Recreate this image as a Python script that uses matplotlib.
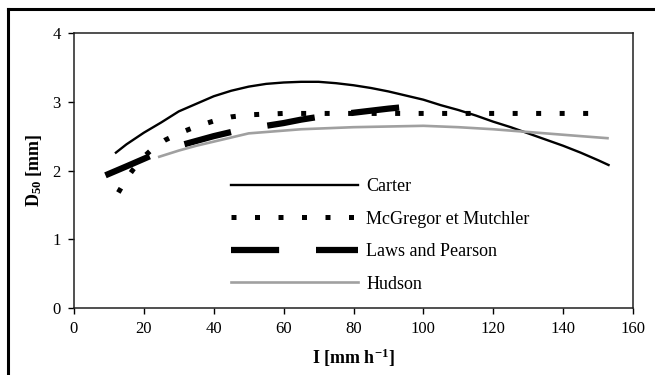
import matplotlib
matplotlib.use('Agg')
import matplotlib.pyplot as plt
from matplotlib.lines import Line2D
import numpy as np

plt.rcParams['font.family'] = ['Liberation Serif', 'DejaVu Serif']
plt.rcParams['mathtext.fontset'] = 'custom'
plt.rcParams['mathtext.rm'] = 'Liberation Serif'
plt.rcParams['mathtext.bf'] = 'Liberation Serif:bold'
plt.rcParams['mathtext.default'] = 'regular'
plt.rcParams['axes.unicode_minus'] = False

# values
carter_x = np.array([12, 15, 20, 25, 30, 35, 40, 45, 50, 55, 60, 65, 70, 75, 80, 85,
                     90, 95, 100, 105, 110, 115, 120, 125, 130, 135, 140, 145, 150, 153])
carter_y = np.array([2.26, 2.38, 2.55, 2.70, 2.86, 2.97, 3.08, 3.16, 3.22, 3.26, 3.28, 3.29,
                     3.29, 3.27, 3.24, 3.20, 3.15, 3.09, 3.03, 2.95, 2.88, 2.80, 2.71, 2.63,
                     2.54, 2.45, 2.36, 2.26, 2.15, 2.08])

mcgregor_x = np.array([12.7, 15, 17, 20, 23, 26, 30, 35, 40, 45, 50, 55, 60, 70, 80, 90,
                       100, 110, 120, 130, 140, 152])
mcgregor_y = np.array([1.68, 1.88, 2.02, 2.20, 2.34, 2.44, 2.54, 2.64, 2.72, 2.78, 2.81, 2.82,
                       2.83, 2.83, 2.83, 2.83, 2.83, 2.83, 2.83, 2.83, 2.83, 2.83])

laws_x = np.array([9, 15, 20, 25, 30, 35, 40, 45, 50, 55, 60, 65, 70, 75, 80, 85, 90, 94])
laws_y = np.array([1.93, 2.06, 2.17, 2.28, 2.36, 2.43, 2.50, 2.56, 2.61, 2.65, 2.69, 2.74,
                   2.78, 2.81, 2.84, 2.87, 2.90, 2.92])

hudson_x = np.array([24.4, 30, 35, 40, 45, 50, 55, 60, 65, 70, 80, 90, 100, 110, 120, 130,
                     140, 145, 152.7])
hudson_y = np.array([2.20, 2.29, 2.36, 2.42, 2.48, 2.54, 2.56, 2.58, 2.60, 2.61, 2.63, 2.64,
                     2.65, 2.63, 2.60, 2.56, 2.52, 2.50, 2.47])

fig = plt.figure(figsize=(6.55, 3.75), dpi=100)
ax = fig.add_axes([74 / 655, 1 - 308 / 375, 559 / 655, 275 / 375])

ax.plot(carter_x, carter_y, color='black', lw=1.7, label='Carter')
ax.plot(mcgregor_x, mcgregor_y, color='black', lw=3.6, dashes=(1, 3.7),
        dash_capstyle='butt', label='McGregor et Mutchler')
ax.plot(laws_x, laws_y, color='black', lw=4.5, dashes=(7.7, 5.9),
        dash_capstyle='butt', label='Laws and Pearson')
ax.plot(hudson_x, hudson_y, color='#a0a0a0', lw=1.9, label='Hudson')

ax.set_xlim(0, 160)
ax.set_ylim(0, 4)
ax.set_xticks(np.arange(0, 161, 20))
ax.set_yticks(np.arange(0, 5, 1))
ax.tick_params(direction='out', length=4.5, width=1, labelsize=12, pad=5)
for s in ax.spines.values():
    s.set_linewidth(1.1)
    s.set_color('#202020')

ax.set_xlabel('I [mm h$^{-1}$]', fontsize=13, fontweight='bold', labelpad=7)
ax.set_ylabel('D$_{50}$ [mm]', fontsize=13, fontweight='bold', labelpad=6)

ax.legend(loc='upper left', bbox_to_anchor=(0.281, 0.472), frameon=False, fontsize=13,
          handlelength=7.05, handletextpad=0.45, labelspacing=0.86, borderpad=0,
          borderaxespad=0)

# outer frame of the original figure (left and top edges visible)
fig.add_artist(Line2D([7.5 / 655, 7.5 / 655], [0, 1 - 8.5 / 375], color='black', lw=2.2,
                      transform=fig.transFigure))
fig.add_artist(Line2D([7.5 / 655, 1], [1 - 8.5 / 375, 1 - 8.5 / 375], color='black', lw=2.2,
                      transform=fig.transFigure))

fig.savefig('out.png', dpi=100)
